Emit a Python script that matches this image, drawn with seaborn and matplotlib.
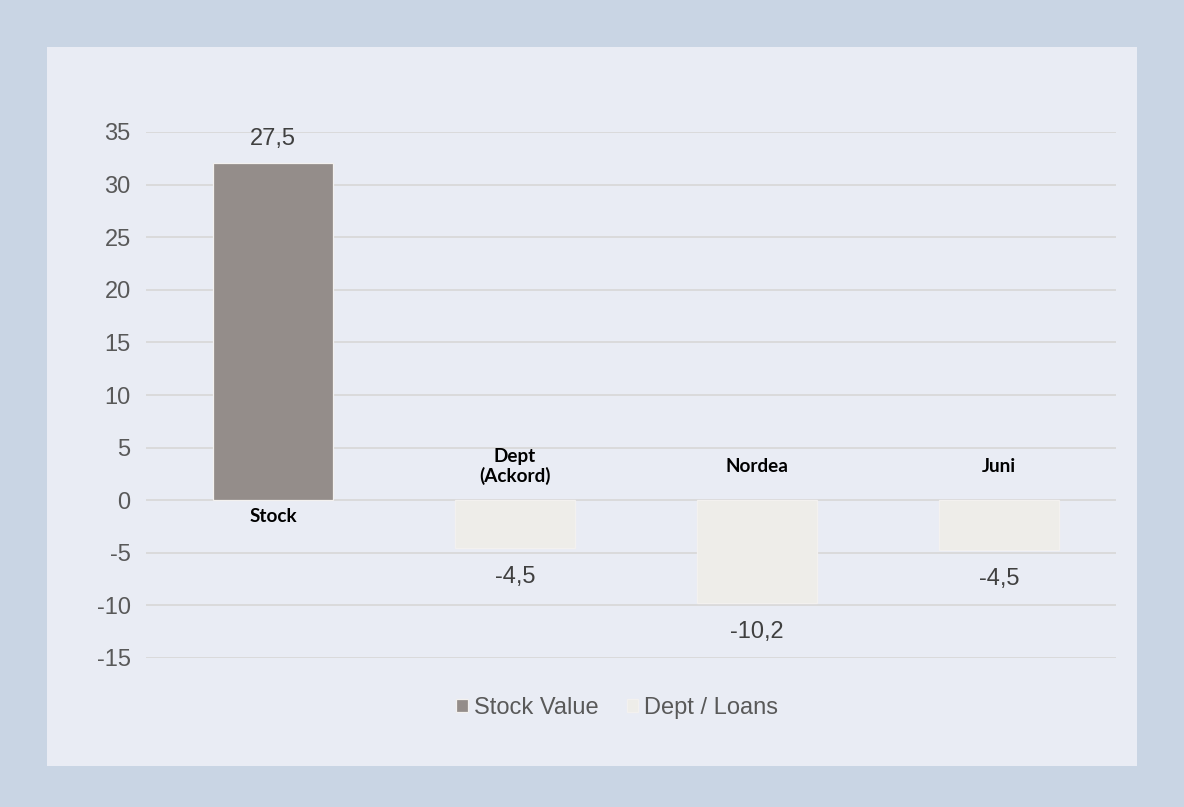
import matplotlib
matplotlib.use("Agg")
import matplotlib.pyplot as plt
import seaborn as sns
import pandas as pd

categories = ["Stock", "Dept\n(Ackord)", "Nordea", "Juni"]
values = [32.1, -4.5, -9.8, -4.7]
series = ["Stock Value", "Dept / Loans", "Dept / Loans", "Dept / Loans"]
value_labels = ["27,5", "-4,5", "-10,2", "-4,5"]
yticks = [-15, -10, -5, 0, 5, 10, 15, 20, 25, 30, 35]

outer_bg = "#c9d5e4"
inner_bg = "#e9ecf4"
colors = {"Stock Value": "#968c88", "Dept / Loans": "#efede8"}

sns.set_theme(style="white")
plt.rcParams["font.family"] = ["Liberation Sans", "DejaVu Sans"]

fig = plt.figure(figsize=(11.84, 8.07), dpi=100, facecolor=outer_bg)

bg = fig.add_axes([47 / 1184, (807 - 766) / 807, (1137 - 47) / 1184, (766 - 47) / 807], zorder=-5)
bg.set_facecolor(inner_bg)
bg.set_xticks([])
bg.set_yticks([])
for s in bg.spines.values():
    s.set_visible(False)

ax = fig.add_axes([146 / 1184, (807 - 658) / 807, (1116 - 146) / 1184, (658 - 132) / 807], zorder=1)
ax.set_facecolor("none")

df = pd.DataFrame({"cat": categories, "val": values, "series": series})
sns.barplot(data=df, x="cat", y="val", hue="series", dodge=False, palette=colors,
            width=0.495, ax=ax, zorder=3, edgecolor="#f3f1ef", linewidth=0.9)

ax.set_ylim(-15, 35)
ax.set_xlim(-0.525, 3.483)
ax.set_yticks(yticks)
ax.set_yticklabels([str(t) for t in yticks])
ax.tick_params(axis="y", labelsize=17, labelcolor="#595959", length=0, pad=11)
ax.set_xticks([])
ax.set_xlabel("")
ax.set_ylabel("")
for s in ax.spines.values():
    s.set_visible(False)
for t in yticks:
    ax.axhline(t, color="#d9d9d9", lw=1.3, zorder=1)

for i, (v, lab) in enumerate(zip(values, value_labels)):
    off = 17 if v >= 0 else -21
    ax.annotate(lab, (i, v), xytext=(0, off), textcoords="offset points",
                ha="center", va="center", fontsize=17, color="#404040")

for i, (c, v) in enumerate(zip(categories, values)):
    off = -11.5 if v >= 0 else 24
    ax.annotate(c, (i, 0), xytext=(0, off), textcoords="offset points", ha="center", va="center",
                fontsize=13.6, fontweight="bold", family=["Lato", "DejaVu Sans"], color="#000000",
                linespacing=1.12)

leg = ax.legend(loc="center", bbox_to_anchor=(0.4856, -0.095), ncol=2, frameon=False,
                fontsize=17, handlelength=0.5, handleheight=0.5, handletextpad=0.25,
                columnspacing=1.2, borderpad=0)
for t in leg.get_texts():
    t.set_color("#595959")

fig.savefig("out.png", dpi=100, facecolor=outer_bg)
